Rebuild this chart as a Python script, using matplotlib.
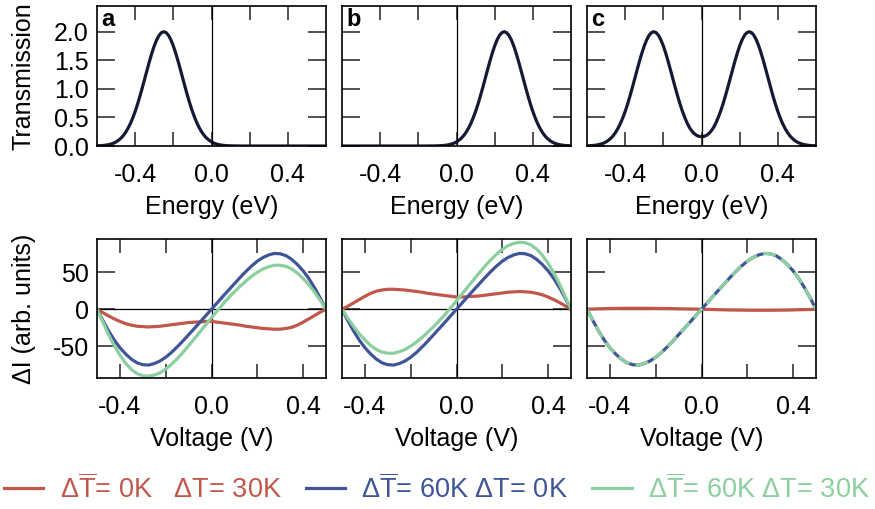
import numpy as np
import matplotlib
matplotlib.use("Agg")
import matplotlib.pyplot as plt

# sample grids the values below were read at
energy = np.linspace(-0.6, 0.6, 97)
voltage = np.linspace(-0.5, 0.5, 41)

# transmission, panels a / b / c
trans_a = [0.003, 0.005, 0.007, 0.011, 0.017, 0.025, 0.036, 0.051, 0.072, 0.100,
           0.136, 0.181, 0.239, 0.309, 0.393, 0.492, 0.605, 0.732, 0.872, 1.021,
           1.176, 1.331, 1.483, 1.625, 1.751, 1.856, 1.935, 1.983, 2.0,
           1.983, 1.935, 1.856, 1.751, 1.625, 1.483, 1.331, 1.176, 1.021, 0.872,
           0.732, 0.605, 0.492, 0.393, 0.309, 0.239, 0.181, 0.136, 0.100, 0.072,
           0.051, 0.036, 0.025, 0.017, 0.011, 0.007, 0.005, 0.003, 0.002, 0.001,
           0.001, 0, 0, 0, 0, 0, 0, 0, 0, 0, 0, 0, 0, 0, 0, 0, 0, 0, 0, 0, 0,
           0, 0, 0, 0, 0, 0, 0, 0, 0, 0, 0, 0, 0, 0, 0, 0, 0]
trans_b = [0, 0, 0, 0, 0, 0, 0, 0, 0, 0, 0, 0, 0, 0, 0, 0, 0, 0, 0, 0,
           0, 0, 0, 0, 0, 0, 0, 0, 0, 0, 0, 0, 0, 0, 0, 0, 0,
           0.001, 0.001, 0.002, 0.003, 0.005, 0.007, 0.011, 0.017, 0.025, 0.036,
           0.051, 0.072, 0.100, 0.136, 0.181, 0.239, 0.309, 0.393, 0.492, 0.605,
           0.732, 0.872, 1.021, 1.176, 1.331, 1.483, 1.625, 1.751, 1.856, 1.935,
           1.983, 2.0,
           1.983, 1.935, 1.856, 1.751, 1.625, 1.483, 1.331, 1.176, 1.021, 0.872,
           0.732, 0.605, 0.492, 0.393, 0.309, 0.239, 0.181, 0.136, 0.100, 0.072,
           0.051, 0.036, 0.025, 0.017, 0.011, 0.007, 0.005, 0.003]
trans_c = [0.003, 0.005, 0.007, 0.011, 0.017, 0.025, 0.036, 0.051, 0.072, 0.100,
           0.136, 0.181, 0.239, 0.309, 0.393, 0.492, 0.605, 0.732, 0.872, 1.021,
           1.176, 1.331, 1.483, 1.625, 1.751, 1.856, 1.935, 1.983, 2.0,
           1.983, 1.935, 1.856, 1.751, 1.625, 1.483, 1.331, 1.176,
           1.022, 0.873, 0.734, 0.608, 0.497, 0.400, 0.320, 0.260, 0.215, 0.185,
           0.168, 0.163, 0.168, 0.185, 0.215, 0.260, 0.320, 0.400, 0.497, 0.608,
           0.734, 0.873, 1.022,
           1.176, 1.331, 1.483, 1.625, 1.751, 1.856, 1.935, 1.983, 2.0,
           1.983, 1.935, 1.856, 1.751, 1.625, 1.483, 1.331, 1.176, 1.021, 0.872,
           0.732, 0.605, 0.492, 0.393, 0.309, 0.239, 0.181, 0.136, 0.100, 0.072,
           0.051, 0.036, 0.025, 0.017, 0.011, 0.007, 0.005, 0.003]

# current difference (arb. units)
# dTbar=60K dT=0K (same in all three panels)
dI_60_0 = [0, -15, -29, -41.5, -52, -60.5, -67.5, -72.5, -75, -75.5,
           -73.5, -70, -65, -58.5, -51, -43, -34.5, -26, -17.5, -8.7,
           0, 8.7, 17.5, 26, 34.5, 43, 51, 58.5, 65, 70,
           73.5, 75.5, 75, 72.5, 67.5, 60.5, 52, 41.5, 29, 15, 0]
# panel a
dI_a_0_30 = [0, -4.5, -9, -13, -16.5, -19.5, -21.5, -23, -23.5, -24,
             -23.5, -23, -22, -21, -20, -19, -18, -17.5, -17, -16.5,
             -16.5, -17.5, -18.5, -19.5, -20.5, -21.5, -23, -24, -25, -26,
             -26.5, -27, -27, -26, -24.5, -21.5, -17.5, -13, -8.5, -4, 0]
dI_a_60_30 = [0, -17, -34, -49, -62, -73, -81.5, -87, -90, -90.5,
              -89, -86, -81, -74.5, -67, -58.5, -49.5, -40, -30.5, -21,
              -11.5, -2, 7, 15.5, 23.5, 31, 38, 44.5, 50, 54.5,
              57.5, 59.5, 59.5, 58, 54.5, 49, 41.5, 33, 23, 12, 0]
# panel b
dI_b_0_30 = [0, 4, 8.5, 13, 17.5, 21.5, 24.5, 26, 27, 27,
             26.5, 26, 25, 24, 23, 21.5, 20.5, 19.5, 18.5, 17.5,
             16.5, 16.5, 17, 17.5, 18, 19, 20, 21, 22, 23,
             23.5, 24, 23.5, 23, 21.5, 19.5, 16.5, 13, 9, 4.5, 0]
dI_b_60_30 = [0, -12, -23, -33, -41.5, -49, -54.5, -58, -59.5, -59.5,
              -57.5, -54.5, -50, -44.5, -38, -31, -23.5, -15.5, -7, 2,
              11.5, 21, 30.5, 40, 49.5, 58.5, 67, 74.5, 81, 86,
              89, 90.5, 90, 87, 81.5, 73, 62, 49, 34, 17, 0]
# panel c
dI_c_0_30 = [0, 0.3, 0.6, 0.8, 1.0, 1.1, 1.2, 1.3, 1.3, 1.3,
             1.3, 1.2, 1.1, 1.0, 0.9, 0.8, 0.6, 0.5, 0.3, 0.2,
             0, -0.2, -0.4, -0.6, -0.8, -1.0, -1.1, -1.2, -1.3, -1.4,
             -1.4, -1.4, -1.4, -1.3, -1.2, -1.1, -0.9, -0.7, -0.5, -0.3, 0]
dI_c_60_30 = dI_60_0

panel_names = ["a", "b", "c"]
trans_list = [trans_a, trans_b, trans_c]
red_list = [dI_a_0_30, dI_b_0_30, dI_c_0_30]
green_list = [dI_a_60_30, dI_b_60_30, dI_c_60_30]

plt.rcParams["font.family"] = ["Liberation Sans", "DejaVu Sans"]
plt.rcParams["axes.unicode_minus"] = False
plt.rcParams["mathtext.fontset"] = "custom"
plt.rcParams["mathtext.rm"] = "Liberation Sans"
plt.rcParams["mathtext.it"] = "Liberation Sans"
plt.rcParams["mathtext.bf"] = "Liberation Sans:bold"

c_red = "#c0574a"
c_blue = "#3f5597"
c_green = "#8ccf9f"
c_navy = "#141a33"

W, H = 875, 509
fig = plt.figure(figsize=(W / 100, H / 100), dpi=100)

lefts = [97, 342, 587]
aw = 229


def box(left, top, bottom):
    return [left / W, (H - bottom) / H, aw / W, (bottom - top) / H]


def style(ax, xt, xtl):
    ax.set_xticks(xt)
    ax.set_xticklabels(xtl)
    ax.tick_params(axis="both", direction="in", top=True, right=True,
                   labelsize=18, width=1.1, color="#222222")
    ax.tick_params(axis="x", length=10, pad=12)
    ax.tick_params(axis="y", length=13, pad=6)
    for s in ax.spines.values():
        s.set_linewidth(1.2)


lines = []
for i in range(3):
    # transmission row
    ax = fig.add_axes(box(lefts[i], 6, 146))
    ax.plot(energy, trans_list[i], color=c_navy, lw=2.3,
            solid_joinstyle="round")
    ax.axvline(0, color="black", lw=0.9)
    ax.set_xlim(-0.6, 0.6)
    ax.set_ylim(0, 2.45)
    style(ax, [-0.4, -0.2, 0, 0.2, 0.4], ["-0.4", "", "0.0", "", "0.4"])
    ax.set_yticks([0, 0.5, 1.0, 1.5, 2.0])
    if i == 0:
        ax.set_yticklabels(["0.0", "0.5", "1.0", "1.5", "2.0"])
        ax.set_ylabel("Transmission", fontsize=18, labelpad=13)
    else:
        ax.set_yticklabels([])
    ax.set_xlabel("Energy (eV)", fontsize=18, labelpad=6)
    ax.text(0.02, 0.985, panel_names[i], transform=ax.transAxes, fontsize=17,
            fontweight="bold", va="top", ha="left")

    # current row
    ax2 = fig.add_axes(box(lefts[i], 239, 378))
    ax2.axvline(0, color="black", lw=0.9)
    ax2.axhline(0, color="black", lw=0.9)
    l1, = ax2.plot(voltage, red_list[i], color=c_red, lw=2.3)
    l2, = ax2.plot(voltage, dI_60_0, color=c_blue, lw=2.3)
    if i == 2:
        l3, = ax2.plot(voltage, green_list[i], color=c_green, lw=2.3,
                       dashes=(4, 2))
    else:
        l3, = ax2.plot(voltage, green_list[i], color=c_green, lw=2.3)
    if i == 0:
        lines = [l1, l2, l3]
    ax2.set_xlim(-0.5, 0.5)
    ax2.set_ylim(-93, 95)
    style(ax2, [-0.4, -0.2, 0, 0.2, 0.4], ["-0.4", "", "0.0", "", "0.4"])
    ax2.set_yticks([-50, 0, 50])
    if i == 0:
        ax2.set_yticklabels(["-50", "0", "50"])
        ax2.set_ylabel("ΔI (arb. units)", fontsize=18, labelpad=12)
    else:
        ax2.set_yticklabels([])
    ax2.set_xlabel("Voltage (V)", fontsize=18, labelpad=6)

labels = [r"$\Delta\overline{\mathrm{T}}$= 0K   $\Delta$T= 30K",
          r"$\Delta\overline{\mathrm{T}}$= 60K $\Delta$T= 0K",
          r"$\Delta\overline{\mathrm{T}}$= 60K $\Delta$T= 30K"]
fig.legend([lines[0], lines[1], lines[2]], labels, loc="center left",
           bbox_to_anchor=(4 / W, 20 / H), ncol=3, frameon=False,
           borderpad=0, borderaxespad=0,
           prop={"size": 19.5}, handlelength=1.45,
           handletextpad=0.6, columnspacing=0.9, labelcolor="linecolor")

fig.savefig("out.png", dpi=100)
